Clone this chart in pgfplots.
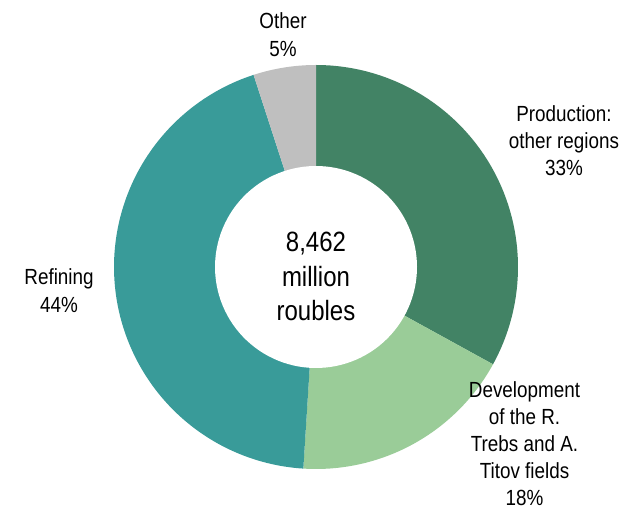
\documentclass[border=0pt]{standalone}
\usepackage{fontspec}
\setmainfont{Liberation Sans}[FakeStretch=0.86]
\usepackage{pgfplots}
\pgfplotsset{compat=1.18}
\definecolor{prodc}{RGB}{66,131,101}
\definecolor{devc}{RGB}{154,204,152}
\definecolor{refc}{RGB}{57,155,153}
\definecolor{othc}{RGB}{191,191,191}
% shares in percent
\def\vProd{33}
\def\vDev{18}
\def\vRef{44}
\def\vOth{5}
\pgfmathsetmacro\aZero{90}
\pgfmathsetmacro\aOne{\aZero-3.6*\vProd}
\pgfmathsetmacro\aTwo{\aOne-3.6*\vDev}
\pgfmathsetmacro\aThree{\aTwo-3.6*\vRef}
\pgfmathsetmacro\aFour{\aThree-3.6*\vOth}
\begin{document}
\begin{tikzpicture}
\begin{axis}[
  x=1bp, y=1bp, scale only axis,
  xmin=0, xmax=633, ymin=0, ymax=511,
  hide axis, clip=false,
]
\draw[draw=none] (rel axis cs:0,0) rectangle (rel axis cs:1,1);
\addplot[fill=prodc, draw=none, domain=\aOne:\aZero, samples=90] ({316+202*cos(x)},{244+202*sin(x)}) -- (axis cs:316,244) -- cycle;
\addplot[fill=devc, draw=none, domain=\aTwo:\aOne, samples=60] ({316+202*cos(x)},{244+202*sin(x)}) -- (axis cs:316,244) -- cycle;
\addplot[fill=refc, draw=none, domain=\aThree:\aTwo, samples=120] ({316+202*cos(x)},{244+202*sin(x)}) -- (axis cs:316,244) -- cycle;
\addplot[fill=othc, draw=none, domain=\aFour:\aThree, samples=20] ({316+202*cos(x)},{244+202*sin(x)}) -- (axis cs:316,244) -- cycle;
\addplot[fill=white, draw=none, domain=0:360, samples=120] ({316+101*cos(x)},{244+101*sin(x)}) -- cycle;
% center text
\begin{scope}[every node/.style={anchor=base, inner sep=0pt, font=\fontsize{28}{32}\selectfont}]
\node at (axis cs:316,259) {8,462};
\node at (axis cs:316,224.5) {million};
\node at (axis cs:316,190.5) {roubles};
\end{scope}
\begin{scope}[every node/.style={anchor=base, inner sep=0pt, font=\fontsize{22}{26}\selectfont}]
\node at (axis cs:283,482) {Other};
\node at (axis cs:283,454) {5\%};
\node at (axis cs:564,389) {Production:};
\node at (axis cs:564,362) {other regions};
\node at (axis cs:564,335) {33\%};
\node at (axis cs:59,226) {Refining};
\node at (axis cs:59,198) {44\%};
\node at (axis cs:524.5,113.5) {Development};
\node at (axis cs:524.5,86) {of the R.};
\node at (axis cs:524.5,59) {Trebs and A.};
\node at (axis cs:524.5,32) {Titov fields};
\node at (axis cs:524.5,5) {18\%};
\end{scope}
\end{axis}
\end{tikzpicture}
\end{document}
